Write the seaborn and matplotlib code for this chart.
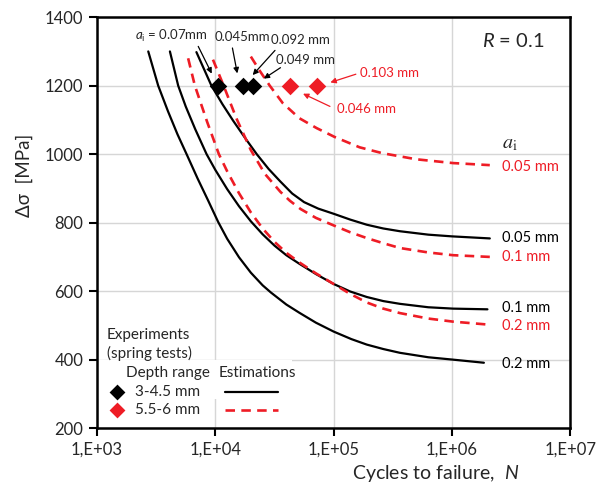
import matplotlib
matplotlib.use("Agg")
import matplotlib.pyplot as plt
from matplotlib.patches import Rectangle
import seaborn as sns
import pandas as pd
import numpy as np

# estimated S-N curves: log10(cycles) and stress range [MPa]
b005_logN = [3.84, 3.967, 4.06, 4.15, 4.25, 4.35, 4.45, 4.55, 4.65, 4.75, 4.87, 5.0,
             5.14, 5.28, 5.42, 5.56, 5.8, 6.0, 6.32]
b005_s = [1298, 1200, 1146, 1098, 1048, 1000, 957, 920, 885, 860, 841, 826,
          809, 794, 783, 775, 765, 760, 754]
b01_logN = [3.616, 3.686, 3.75, 3.83, 3.926, 4.0, 4.1, 4.2, 4.3, 4.4, 4.5, 4.6, 4.71,
            4.85, 5.0, 5.14, 5.28, 5.42, 5.56, 5.8, 6.01, 6.30]
b01_s = [1300, 1200, 1139, 1073, 1000, 954, 898, 848, 804, 766, 733, 705, 680,
         650, 621, 599, 583, 571, 563, 553, 549, 547]
b02_logN = [3.433, 3.517, 3.60, 3.68, 3.757, 3.85, 3.94, 4.024, 4.1, 4.2, 4.3, 4.4,
            4.47, 4.6, 4.71, 4.85, 5.0, 5.15, 5.28, 5.42, 5.56, 5.8, 6.01, 6.27]
b02_s = [1300, 1200, 1125, 1058, 1000, 929, 864, 802, 753, 699, 654, 617,
         596, 561, 537, 508, 482, 460, 444, 431, 420, 407, 400, 391]
r005_logN = [4.30, 4.38, 4.46, 4.57, 4.71, 4.857, 5.01, 5.22, 5.41, 5.70, 6.01, 6.32]
r005_s = [1285, 1241, 1200, 1149, 1105, 1076, 1050, 1020, 1003, 985, 974, 968]
r01_logN = [3.98, 4.07, 4.18, 4.30, 4.42, 4.55, 4.63, 4.72, 4.85, 5.0, 5.14, 5.28,
            5.42, 5.56, 5.8, 6.01, 6.32]
r01_s = [1276, 1200, 1103, 1012, 942, 890, 864, 840, 814, 792, 772, 755,
         740, 726, 713, 705, 700]
r02_logN = [3.77, 3.827, 3.93, 4.03, 4.1, 4.2, 4.3, 4.4, 4.5, 4.6, 4.71, 4.85, 5.0,
            5.14, 5.28, 5.42, 5.56, 5.8, 6.01, 6.32]
r02_s = [1280, 1200, 1095, 1000, 950, 886, 830, 783, 744, 712, 684, 652, 621,
         592, 567, 549, 536, 520, 511, 502]

# spring test results
exp_black_N = [10500, 17060, 20700]
exp_black_s = [1200, 1200, 1200]
exp_red_N = [42600, 71900]
exp_red_s = [1200, 1200]

rows = []
for name, xs, ys in [("b0.05", b005_logN, b005_s),
                     ("b0.1", b01_logN, b01_s),
                     ("b0.2", b02_logN, b02_s),
                     ("r0.05", r005_logN, r005_s),
                     ("r0.1", r01_logN, r01_s),
                     ("r0.2", r02_logN, r02_s)]:
    for lx, s in zip(xs, ys):
        rows.append({"curve": name, "N": 10 ** lx, "stress": s})
df = pd.DataFrame(rows)

sns.set_style("white")
plt.rcParams['font.family'] = ['Lato', 'DejaVu Sans']
plt.rcParams['mathtext.fontset'] = 'custom'
plt.rcParams['mathtext.rm'] = 'Lato'
plt.rcParams['mathtext.it'] = 'Lato:italic'

RED = "#ee1c25"
DASH = (0, (3.6, 2.4))

fig = plt.figure(figsize=(5.99, 4.91), dpi=100)
ax = fig.add_axes([0.162, 0.128, 0.790, 0.837])

for name in df["curve"].unique():
    d = df[df["curve"] == name]
    if name.startswith("b"):
        sns.lineplot(data=d, x="N", y="stress", ax=ax, color="black", lw=1.6,
                     sort=False, estimator=None, zorder=3)
    else:
        sns.lineplot(data=d, x="N", y="stress", ax=ax, color=RED, lw=1.9,
                     sort=False, estimator=None, zorder=3, linestyle=DASH)

sns.scatterplot(x=exp_black_N, y=exp_black_s, ax=ax, marker="D", s=80,
                color="black", linewidth=0, zorder=5)
sns.scatterplot(x=exp_red_N, y=exp_red_s, ax=ax, marker="D", s=80,
                color=RED, linewidth=0, zorder=5)

ax.set_xscale("log")
ax.set_xlim(1e3, 1e7)
ax.set_ylim(200, 1400)
ax.set_xticks([1e3, 1e4, 1e5, 1e6, 1e7])
ax.set_xticklabels(["1,E+03", "1,E+04", "1,E+05", "1,E+06", "1,E+07"])
ax.xaxis.set_minor_locator(matplotlib.ticker.NullLocator())
ax.set_yticks(range(200, 1401, 200))
ax.grid(True, color="#d6d6d6", lw=1.0, zorder=0)
ax.set_axisbelow(True)
for sp in ax.spines.values():
    sp.set_color("black")
    sp.set_linewidth(1.8)
ax.tick_params(axis="both", direction="out", length=6, width=1.5, color="black",
               labelsize=12, pad=4, bottom=True, left=True)

ax.set_xlabel("Cycles to failure,  $N$", fontsize=14)
ax.xaxis.set_label_coords(0.715, -0.085)
ax.set_ylabel("Δσ  [MPa]", fontsize=13.5)
ax.yaxis.set_label_coords(-0.135, 0.615)

# white area behind the legend rows
ax.add_patch(Rectangle((1000, 286), 10 ** 4.65 - 1000, 112, facecolor="white",
                       edgecolor="none", zorder=1))

# curve labels on the right
lab_x = 10 ** 6.42
ax.text(lab_x, 1028, r"$a_\mathrm{i}$", math_fontfamily="stix", fontsize=14.5,
        ha="left", va="center")
ax.text(lab_x, 963, "0.05 mm", color=RED, fontsize=10.5, va="center")
ax.text(lab_x, 755, "0.05 mm", color="black", fontsize=10.5, va="center")
ax.text(lab_x, 700, "0.1 mm", color=RED, fontsize=10.5, va="center")
ax.text(lab_x, 550, "0.1 mm", color="black", fontsize=10.5, va="center")
ax.text(lab_x, 497, "0.2 mm", color=RED, fontsize=10.5, va="center")
ax.text(lab_x, 386, "0.2 mm", color="black", fontsize=10.5, va="center")

ax.text(10 ** 6.52, 1330, "$R$ = 0.1", fontsize=14.5, ha="center", va="center")

# arrows to the experiments
arr_k = dict(arrowstyle="-|>", color="black", lw=0.9, mutation_scale=8)
arr_r = dict(arrowstyle="-|>", color=RED, lw=0.9, mutation_scale=8)
ax.text(10 ** 3.63, 1345, r"$a_\mathrm{i}$ = 0.07mm", fontsize=9.5, ha="center", va="center")
ax.annotate("", xy=(10 ** 3.98, 1228), xytext=(10 ** 3.845, 1322), arrowprops=arr_k)
ax.text(10 ** 4.23, 1342, "0.045mm", fontsize=9.5, ha="center", va="center")
ax.annotate("", xy=(10 ** 4.19, 1228), xytext=(10 ** 4.14, 1318), arrowprops=arr_k)
ax.text(10 ** 4.72, 1333, "0.092 mm", fontsize=9.5, ha="center", va="center")
ax.annotate("", xy=(10 ** 4.30, 1225), xytext=(10 ** 4.52, 1309), arrowprops=arr_k)
ax.text(10 ** 4.76, 1274, "0.049 mm", fontsize=9.5, ha="center", va="center")
ax.annotate("", xy=(10 ** 4.39, 1216), xytext=(10 ** 4.57, 1257), arrowprops=arr_k)
ax.text(10 ** 5.225, 1237, "0.103 mm", fontsize=9.5, color=RED, ha="left", va="center")
ax.annotate("", xy=(10 ** 4.95, 1207), xytext=(10 ** 5.21, 1236), arrowprops=arr_r)
ax.text(10 ** 5.03, 1131, "0.046 mm", fontsize=9.5, color=RED, ha="left", va="center")
ax.annotate("", xy=(10 ** 4.72, 1180), xytext=(10 ** 4.99, 1136), arrowprops=arr_r)

# hand-made legend
ax.text(10 ** 3.085, 473, "Experiments", fontsize=11, va="center")
ax.text(10 ** 3.085, 418, "(spring tests)", fontsize=11, va="center")
ax.text(10 ** 3.245, 362, "Depth range", fontsize=11, va="center")
ax.text(10 ** 4.025, 362, "Estimations", fontsize=11, va="center")
sns.scatterplot(x=[10 ** 3.17], y=[305], ax=ax, marker="D", s=65, color="black",
                linewidth=0, zorder=5)
sns.scatterplot(x=[10 ** 3.17], y=[253], ax=ax, marker="D", s=65, color=RED,
                linewidth=0, zorder=5)
ax.text(10 ** 3.32, 305, "3-4.5 mm", fontsize=11, va="center")
ax.text(10 ** 3.32, 253, "5.5-6 mm", fontsize=11, va="center")
ax.plot([10 ** 4.08, 10 ** 4.53], [305, 305], color="black", lw=1.6, zorder=3)
ax.plot([10 ** 4.08, 10 ** 4.53], [253, 253], color=RED, lw=1.9, linestyle=DASH, zorder=3)

fig.savefig("out.png", dpi=100)
